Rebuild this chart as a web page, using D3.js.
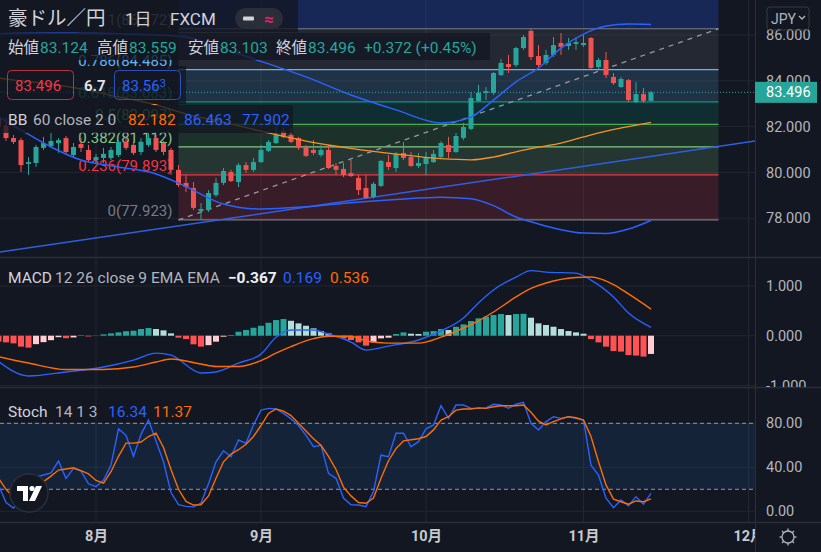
<!DOCTYPE html>
<html>
<head>
<meta charset="utf-8">
<script src="https://cdn.jsdelivr.net/npm/d3@7"></script>
<style>
  html, body { margin: 0; padding: 0; background: #131722; }
  svg { display: block; }
  text { font-family: Roboto, "Noto Sans CJK JP", sans-serif; }
</style>
</head>
<body>
<script>
// ---- data (AUD/JPY daily, FXCM) ----
const firstBar = '2021-07-14';
const axisEnd = '2021-12-04';

const opens  = [82.38,82.05,81.50,81.41,80.37,80.41,81.07,81.15,81.28,81.50,80.76,81.24,80.98,
  80.54,80.63,80.63,80.76,81.33,81.20,80.89,81.20,81.50,81.28,80.98,80.11,79.54,79.32,78.31,78.36,79.01,79.54,80.02,79.58,80.32,80.11,
  80.45,80.94,81.28,81.81,81.63,81.50,81.11,80.98,80.76,80.98,80.28,80.15,79.97,79.76,79.32,78.93,79.41,80.45,80.19,80.85,80.67,80.28,
  80.37,80.45,80.67,81.20,80.89,81.50,81.90,83.12,83.47,83.47,84.25,84.73,84.69,85.43,86.18,85.08,84.78,85.13,85.65,85.52,85.61,
  85.56,85.87,84.60,84.91,84.17,83.73,84.03,83.07,83.42,83.124];
const highs  = [82.52,82.38,81.63,81.50,80.67,81.20,81.55,81.72,81.50,81.59,81.28,81.50,81.20,
  80.80,81.07,81.11,81.41,81.55,81.33,81.50,81.72,81.63,81.37,81.07,80.32,79.89,79.58,78.66,79.23,79.76,80.19,80.11,80.41,80.45,80.63,
  81.20,81.41,81.98,81.94,81.94,81.55,81.20,81.41,81.20,81.20,80.41,80.41,80.54,79.89,79.89,79.58,80.54,80.76,80.89,81.33,80.89,80.85,
  80.89,80.98,81.37,81.55,81.72,82.16,83.51,83.82,83.73,84.38,84.95,85.13,85.48,86.00,86.272,85.56,85.35,85.91,86.09,85.87,85.91,
  86.00,85.91,85.00,85.26,84.34,84.17,84.08,83.95,83.69,83.559];
const lows   = [81.90,81.37,81.24,80.02,79.89,80.24,80.98,81.07,80.86,80.80,80.67,80.89,80.45,
  80.41,80.41,80.54,80.67,80.98,80.76,80.76,81.11,80.89,80.76,79.89,79.36,79.14,78.36,77.923,78.27,78.93,79.45,79.58,79.36,79.97,80.02,
  80.41,80.89,81.24,81.50,81.28,80.98,80.67,80.76,80.67,80.15,79.89,79.80,79.80,79.01,78.86,78.86,79.36,80.11,80.02,80.54,80.24,80.19,
  79.89,80.41,80.63,80.63,80.85,81.41,81.85,83.07,83.16,83.38,84.21,84.34,84.60,85.35,84.91,84.60,84.69,85.04,85.13,85.35,85.35,
  85.48,84.52,84.52,84.12,83.82,83.69,83.07,83.03,83.03,83.103];
const closes = [82.00,81.50,81.33,80.32,80.45,81.11,81.28,81.37,81.41,80.89,81.11,81.07,80.54,
  80.67,80.81,80.98,81.33,81.07,80.85,81.33,81.50,80.98,80.89,80.11,79.45,79.36,78.45,78.40,79.10,79.54,80.06,79.62,80.32,80.11,80.45,
  80.98,81.33,81.63,81.55,81.33,81.07,80.72,80.85,80.98,80.19,80.11,79.89,79.84,79.23,78.88,79.50,80.50,80.24,80.81,80.63,80.28,80.41,
  80.67,80.81,81.28,80.89,81.59,81.98,83.25,83.47,83.55,84.34,84.78,84.60,85.43,85.91,85.04,84.69,85.13,85.56,85.48,85.65,85.69,
  85.65,84.56,84.91,84.25,83.90,84.08,83.16,83.42,83.124,83.496];

// Bollinger Bands 60 / 2, read at sample dates
const bbDates  = ['2021-07-14','2021-07-19','2021-07-23','2021-07-29','2021-08-05','2021-08-12','2021-08-18','2021-08-25',
  '2021-09-01','2021-09-09','2021-09-17','2021-09-27','2021-10-05','2021-10-11','2021-10-14','2021-10-19','2021-10-22',
  '2021-10-27','2021-11-01','2021-11-04','2021-11-09','2021-11-12'];
const bbUpper  = [86.05,86.07,86.08,86.07,86.05,86.0,85.91,85.4,84.85,84.17,83.38,82.73,82.16,82.42,83.16,83.95,84.56,85.43,86.04,86.39,86.48,86.463];
const bbBasis  = [84.12,84.0,83.85,83.65,83.3,82.95,82.55,82.2,81.8,81.37,81.05,80.8,80.6,80.55,80.67,80.9,81.1,81.28,81.55,81.8,82.0,82.182];
const bbLower  = [82.42,81.85,81.11,80.54,80.24,79.93,79.38,78.62,78.40,78.50,78.68,78.82,78.92,78.85,78.55,78.05,77.75,77.5,77.35,77.33,77.53,77.902];

// Fibonacci retracement drawing
const fibFrom = '2021-08-17';
const fibTo = '2021-11-25';
const fibLevels = [0, 0.236, 0.382, 0.5, 0.618, 0.786, 1, 1.618];
const fibPrices = [77.923, 79.893, 81.112, 82.097, 83.083, 84.485, 86.272, 91.432];
const fibColors = ['#787b86','#f23645','#81c784','#4caf50','#089981','#64b5f6','#787b86','#2962ff'];

// hand drawn trend line
const trendDates = ['2021-07-15', '2021-11-12'];
const trendPrices = [76.56, 80.70];

// MACD 12 26 9
const macdHist = [-0.12,-0.134,-0.154,-0.22,-0.24,-0.17,-0.13,-0.09,-0.03,-0.05,-0.035,0.01,-0.015,
  0.005,0.027,0.047,0.067,0.09,0.10,0.134,0.154,0.134,0.107,0.047,-0.04,-0.067,-0.174,-0.22,-0.19,-0.12,-0.02,0.013,0.08,0.114,0.16,
  0.2,0.26,0.315,0.335,0.30,0.248,0.2,0.147,0.094,0.047,-0.02,-0.054,-0.087,-0.134,-0.2,-0.134,-0.054,-0.04,0.034,0.067,0.04,0.035,
  0.08,0.094,0.134,0.114,0.18,0.228,0.295,0.349,0.382,0.416,0.436,0.416,0.436,0.44,0.362,0.248,0.215,0.18,0.134,0.094,0.067,
  0.04,-0.067,-0.134,-0.22,-0.31,-0.32,-0.39,-0.40,-0.42,-0.367];
const macdDates = ['2021-07-14','2021-07-20','2021-07-27','2021-08-03','2021-08-09','2021-08-12','2021-08-16','2021-08-20',
  '2021-08-24','2021-08-27','2021-09-01','2021-09-03','2021-09-07','2021-09-10','2021-09-14','2021-09-17','2021-09-21',
  '2021-09-24','2021-09-30','2021-10-05','2021-10-08','2021-10-12','2021-10-14','2021-10-19','2021-10-21','2021-10-25',
  '2021-10-29','2021-11-02','2021-11-05','2021-11-09','2021-11-12'];
const macdLine = [-0.52,-0.81,-0.73,-0.63,-0.49,-0.35,-0.39,-0.75,-0.73,-0.55,-0.37,-0.03,0.115,0.115,0.034,-0.127,-0.29,
  -0.21,-0.087,0.095,0.356,0.66,0.92,1.18,1.31,1.28,1.26,1.12,0.78,0.457,0.169];
const signalLine = [-0.42,-0.55,-0.68,-0.68,-0.63,-0.53,-0.47,-0.57,-0.62,-0.62,-0.5,-0.35,-0.22,-0.06,-0.01,-0.01,-0.107,
  -0.15,-0.15,-0.03,0.155,0.3,0.477,0.78,0.95,1.06,1.17,1.18,1.03,0.84,0.536];

// Stochastic 14 1 3
const stochK = [24,8,3,10,25,31,33,35,45.7,30,39,36.6,25,
  22.4,28.5,42,75,69,50,70,83,64,45,17,6,4.5,4,7.5,25,45,55,49.6,64.8,61.8,78.5,
  92,93.6,93,89,84,78,69,58.7,60,34.5,30,12,6,5.7,4.2,18,51,49.6,71,71,58.7,63.3,
  75,78.5,96,84.5,96.6,96.6,93.6,93.6,94,97.3,96.6,93.6,97.3,99,80,73.9,81.5,86,84.5,86,84.5,
  83,42,33,12,3.3,10.3,5,13.3,6.4,16.34];
const stochD = [30,20,13,12,16,22,27,32,37.5,38.5,39.6,37,34,
  28,25.5,36,50,62,62,63,68,71,58,38,20,9,5.7,6,14,30,45,52,56,61,68,
  78,89,93,91,87,80,73,66,60,50,38,22,14,8,7.3,12,30,46,57,64,65,66,
  68,74,83,86,92,93,93,94,93.6,95,96,96,96,96.6,90,82,78.5,81.5,84,86,85,
  83,68,45,24,11,8.7,6.4,9.4,8.7,11.37];

const priceTicks = [78, 80, 82, 84, 86];
const macdTicks = [-1, 0, 1];
const stochTicks = [0, 40, 80];
const stochBands = [20, 80];

// ---- layout ----
const W = 821, H = 552;
const plotR = 755;
const panes = { main: [0, 257], macd: [258, 387], stoch: [388, 522] };
const font = 'Roboto, "Noto Sans CJK JP", sans-serif';
const upColor = '#26a69a', downColor = '#ef5350';
const gridColor = '#22262f', lineBorder = '#2a2e39', axisText = '#b2b5be';

const parseDate = d3.timeParse('%Y-%m-%d');
const fmtDate = d3.timeFormat('%Y-%m-%d');
const days = d3.timeDay.range(parseDate(firstBar), parseDate(axisEnd))
  .filter(d => d.getDay() !== 0 && d.getDay() !== 6);
const dayIndex = new Map(days.map((d, i) => [fmtDate(d), i]));
const idx = s => dayIndex.get(s);
const lastIdx = closes.length - 1;

const x = d3.scaleLinear().domain([0, lastIdx]).range([-1.5, 651]);
const y = d3.scaleLinear().domain([78, 86]).range([218.2, 35]);
const yMacd = d3.scaleLinear().domain([-1, 1]).range([385.4, 286]);
const yStoch = d3.scaleLinear().domain([0, 80]).range([511.3, 423.3]);

const svg = d3.select('body').append('svg').attr('width', W).attr('height', H)
  .style('font-family', font);
svg.append('rect').attr('width', W).attr('height', H).attr('fill', '#131722');

const defs = svg.append('defs');
Object.entries(panes).forEach(([k, [t, b]]) => {
  defs.append('clipPath').attr('id', 'clip-' + k)
    .append('rect').attr('x', 0).attr('y', t).attr('width', plotR).attr('height', b - t);
  defs.append('clipPath').attr('id', 'clipax-' + k)
    .append('rect').attr('x', plotR).attr('y', t).attr('width', W - plotR).attr('height', b - t);
});
defs.append('clipPath').attr('id', 'clip-time')
  .append('rect').attr('x', 0).attr('y', 522).attr('width', plotR).attr('height', 30);

// month ticks
const monthIdx = days.map((d, i) => i).filter(i => i > 0 && days[i].getMonth() !== days[i - 1].getMonth());

// vertical grid
const vgrid = svg.append('g');
monthIdx.forEach(i => {
  vgrid.append('line').attr('x1', x(i)).attr('x2', x(i)).attr('y1', 0).attr('y2', 522)
    .attr('stroke', gridColor);
});

// horizontal grid
function hgrid(scale, ticks, pane) {
  const g = svg.append('g').attr('clip-path', `url(#clip-${pane})`);
  ticks.forEach(t => g.append('line').attr('x1', 0).attr('x2', plotR)
    .attr('y1', scale(t)).attr('y2', scale(t)).attr('stroke', gridColor));
}
hgrid(y, priceTicks, 'main');
hgrid(yMacd, macdTicks, 'macd');
hgrid(yStoch, stochTicks, 'stoch');

// ---- main pane ----
const main = svg.append('g').attr('clip-path', 'url(#clip-main)');

// fib zones and lines
const fx0 = x(idx(fibFrom)), fx1 = x(idx(fibTo));
for (let i = 0; i < fibLevels.length - 1; i++) {
  main.append('rect')
    .attr('x', fx0).attr('width', fx1 - fx0)
    .attr('y', y(fibPrices[i + 1])).attr('height', y(fibPrices[i]) - y(fibPrices[i + 1]))
    .attr('fill', fibColors[i + 1]).attr('fill-opacity', fibLevels[i + 1] > 1 ? 0.24 : 0.17);
}
fibLevels.forEach((lv, i) => {
  main.append('line').attr('x1', fx0).attr('x2', fx1)
    .attr('y1', y(fibPrices[i])).attr('y2', y(fibPrices[i]))
    .attr('stroke', fibColors[i]).attr('stroke-width', 1.2);
  main.append('text').attr('x', fx0 - 6).attr('y', y(fibPrices[i]) - 4)
    .attr('text-anchor', 'end').attr('font-size', 15).attr('fill', fibColors[i])
    .text(`${lv}(${d3.format('.3f')(fibPrices[i])})`);
});
// fib diagonal
main.append('line')
  .attr('x1', fx0).attr('y1', y(fibPrices[0])).attr('x2', fx1).attr('y2', y(fibPrices[6]))
  .attr('stroke', '#9598a1').attr('stroke-width', 1.3).attr('stroke-dasharray', '5,5');

// trend line, extended both ways
const ti0 = idx(trendDates[0]), ti1 = idx(trendDates[1]);
const tSlope = (trendPrices[1] - trendPrices[0]) / (ti1 - ti0);
const tL = x.invert(0), tR = x.invert(plotR);
main.append('line')
  .attr('x1', 0).attr('y1', y(trendPrices[0] + (tL - ti0) * tSlope))
  .attr('x2', plotR).attr('y2', y(trendPrices[0] + (tR - ti0) * tSlope))
  .attr('stroke', '#2f5fe0').attr('stroke-width', 1.5);

// candles
const bars = closes.map((c, i) => ({ i, o: opens[i], h: highs[i], l: lows[i], c }));
const cg = main.append('g');
cg.selectAll('line').data(bars).join('line')
  .attr('x1', d => x(d.i)).attr('x2', d => x(d.i))
  .attr('y1', d => y(d.h)).attr('y2', d => y(d.l))
  .attr('stroke', d => d.c >= d.o ? upColor : downColor).attr('stroke-width', 1);
cg.selectAll('rect').data(bars).join('rect')
  .attr('x', d => x(d.i) - 2.5).attr('width', 5)
  .attr('y', d => y(Math.max(d.o, d.c)))
  .attr('height', d => Math.max(1, Math.abs(y(d.o) - y(d.c))))
  .attr('fill', d => d.c >= d.o ? upColor : downColor);

// bollinger bands
const bbLine = vals => d3.line().curve(d3.curveMonotoneX)
  .x((d, i) => x(idx(bbDates[i]))).y(d => y(d))(vals);
main.append('path').attr('d', bbLine(bbUpper)).attr('fill', 'none').attr('stroke', '#2962ff').attr('stroke-width', 1.5);
main.append('path').attr('d', bbLine(bbLower)).attr('fill', 'none').attr('stroke', '#2962ff').attr('stroke-width', 1.5);
main.append('path').attr('d', bbLine(bbBasis)).attr('fill', 'none').attr('stroke', '#f7931e').attr('stroke-width', 1.3);

// last price line
const lastClose = closes[lastIdx];
main.append('line').attr('x1', 0).attr('x2', plotR).attr('y1', y(lastClose)).attr('y2', y(lastClose))
  .attr('stroke', upColor).attr('stroke-dasharray', '1,2');

// ---- MACD pane ----
const mg = svg.append('g').attr('clip-path', 'url(#clip-macd)');
const histColor = (v, p) => v >= 0 ? (v >= p ? '#26a69a' : '#b2dfdb') : (v <= p ? '#ff5252' : '#ffcdd2');
mg.selectAll('rect').data(macdHist).join('rect')
  .attr('x', (d, i) => x(i) - 3).attr('width', 6)
  .attr('y', d => Math.min(yMacd(d), yMacd(0)))
  .attr('height', d => Math.abs(yMacd(d) - yMacd(0)))
  .attr('fill', (d, i) => histColor(d, i > 0 ? macdHist[i - 1] : d));
const macdGen = d3.line().curve(d3.curveMonotoneX)
  .x((d, i) => x(idx(macdDates[i]))).y(d => yMacd(d));
mg.append('path').attr('d', macdGen(macdLine)).attr('fill', 'none').attr('stroke', '#2962ff').attr('stroke-width', 1.4);
mg.append('path').attr('d', macdGen(signalLine)).attr('fill', 'none').attr('stroke', '#ff6d00').attr('stroke-width', 1.4);

// ---- Stoch pane ----
const sg = svg.append('g').attr('clip-path', 'url(#clip-stoch)');
sg.append('rect').attr('x', 0).attr('width', plotR)
  .attr('y', yStoch(stochBands[1])).attr('height', yStoch(stochBands[0]) - yStoch(stochBands[1]))
  .attr('fill', '#2196f3').attr('fill-opacity', 0.1);
stochBands.forEach(b => sg.append('line').attr('x1', 0).attr('x2', plotR)
  .attr('y1', yStoch(b)).attr('y2', yStoch(b))
  .attr('stroke', '#9598a1').attr('stroke-dasharray', '4,3'));
const stochGen = d3.line().x((d, i) => x(i)).y(d => yStoch(d));
sg.append('path').attr('d', stochGen(stochK)).attr('fill', 'none').attr('stroke', '#2962ff').attr('stroke-width', 1.4);
sg.append('path').attr('d', stochGen(stochD)).attr('fill', 'none').attr('stroke', '#ff6d00').attr('stroke-width', 1.4);

// ---- separators ----
[257.5, 387.5, 522.5].forEach(v => svg.append('line').attr('x1', 0).attr('x2', W)
  .attr('y1', v).attr('y2', v).attr('stroke', lineBorder).attr('stroke-width', 1.5));
svg.append('line').attr('x1', plotR + 0.5).attr('x2', plotR + 0.5).attr('y1', 0).attr('y2', H)
  .attr('stroke', lineBorder).attr('stroke-width', 1.2);

// ---- right axes ----
function rightAxis(scale, ticks, f, pane) {
  svg.append('g').attr('clip-path', `url(#clipax-${pane})`)
    .append('g').attr('transform', `translate(${plotR},0)`)
    .call(d3.axisRight(scale).tickValues(ticks).tickFormat(f).tickSize(0).tickPadding(11))
    .call(g => g.select('.domain').remove())
    .call(g => g.selectAll('text').attr('fill', axisText).attr('font-size', 14.5).attr('font-family', font));
}
rightAxis(y, priceTicks, d3.format('.3f'), 'main');
rightAxis(yMacd, macdTicks, v => d3.format('.3f')(v).replace('−', '-'), 'macd');
rightAxis(yStoch, stochTicks, d3.format('.2f'), 'stoch');

// last price label
svg.append('rect').attr('x', plotR).attr('y', y(lastClose) - 10.5).attr('width', 62).attr('height', 21)
  .attr('fill', upColor);
svg.append('text').attr('x', plotR + 11).attr('y', y(lastClose) + 5).attr('font-size', 14.5)
  .attr('fill', '#ffffff').text(d3.format('.3f')(lastClose));

// JPY button
svg.append('rect').attr('x', 767).attr('y', 7).attr('width', 42).attr('height', 23).attr('rx', 3)
  .attr('fill', 'none').attr('stroke', '#363a45');
svg.append('text').attr('x', 771).attr('y', 24).attr('font-size', 14).attr('fill', axisText).text('JPY');
svg.append('path').attr('d', 'M799 16 l3 3 l3 -3').attr('fill', 'none').attr('stroke', axisText).attr('stroke-width', 1.3);

// ---- time axis ----
svg.append('g').attr('clip-path', 'url(#clip-time)')
  .append('g').attr('transform', 'translate(0,522)')
  .call(d3.axisBottom(x).tickValues(monthIdx).tickFormat(i => (days[i].getMonth() + 1) + '月')
    .tickSize(0).tickPadding(9))
  .call(g => g.select('.domain').remove())
  .call(g => g.selectAll('text').attr('fill', '#c8cad0').attr('font-size', 14.5)
    .attr('font-weight', 'bold').attr('font-family', font));

// gear icon
const gear = svg.append('g').attr('transform', 'translate(788,537)')
  .attr('stroke', axisText).attr('fill', 'none').attr('stroke-width', 1.3);
gear.append('circle').attr('r', 6);
d3.range(8).forEach(k => {
  const a = k * Math.PI / 4;
  gear.append('line').attr('x1', Math.cos(a) * 6).attr('y1', Math.sin(a) * 6)
    .attr('x2', Math.cos(a) * 8.5).attr('y2', Math.sin(a) * 8.5);
});

// ---- legends ----
const lg = svg.append('g');
function bg(x0, y0, w, h) {
  lg.append('rect').attr('x', x0).attr('y', y0).attr('width', w).attr('height', h)
    .attr('fill', '#131722').attr('fill-opacity', 0.78);
}
function txt(x0, y0, s, color, size, weight) {
  return lg.append('text').attr('x', x0).attr('y', y0).attr('font-size', size || 15.5)
    .attr('font-weight', weight || 'normal').attr('fill', color).text(s);
}
bg(0, 0, 298, 32);
bg(0, 33, 490, 27);
bg(0, 66, 186, 38);
bg(0, 105, 293, 28);

txt(8, 25, '豪ドル／円', '#d1d4dc', 19.5);
txt(125, 25, '1日', '#d1d4dc', 17);
txt(170, 25, 'FXCM', '#d1d4dc', 17);
lg.append('rect').attr('x', 235).attr('y', 8).attr('width', 48).attr('height', 21).attr('rx', 10.5)
  .attr('fill', '#2a2e39');
lg.append('rect').attr('x', 243).attr('y', 16.5).attr('width', 11).attr('height', 4).attr('rx', 1)
  .attr('fill', '#d1d4dc');
txt(264, 25, '≈', '#e91e63', 17, 'bold');

const ohlc = [['始値', opens[lastIdx], 8, 40], ['高値', highs[lastIdx], 97, 129],
  ['安値', lows[lastIdx], 188, 220], ['終値', closes[lastIdx], 276, 308]];
ohlc.forEach(([lab, v, lx, vx]) => {
  txt(lx, 53, lab, '#d1d4dc');
  txt(vx, 53, d3.format('.3f')(v), upColor);
});
const chg = closes[lastIdx] - opens[lastIdx];
txt(364, 53, `+${d3.format('.3f')(chg)} (+${d3.format('.2f')(chg / opens[lastIdx] * 100)}%)`, upColor);

lg.append('rect').attr('x', 7.5).attr('y', 70.5).attr('width', 66).attr('height', 29).attr('rx', 4)
  .attr('fill', 'none').attr('stroke', '#b8323d');
txt(15, 91, '83.496', '#f23645', 15);
txt(84, 91, '6.7', '#e0e3eb', 15, 'bold');
lg.append('rect').attr('x', 114.5).attr('y', 70.5).attr('width', 66).attr('height', 29).attr('rx', 4)
  .attr('fill', 'none').attr('stroke', '#2a4fb8');
const ask = txt(122, 91, '83.56', '#2962ff', 15);
ask.append('tspan').attr('font-size', 11).attr('dy', -4).text('3');

txt(8, 125, 'BB', '#d1d4dc');
txt(33, 125, '60 close 2 0', '#b2b5be');
txt(128, 125, d3.format('.3f')(bbBasis[bbBasis.length - 1]), '#ff6d00');
txt(184, 125, d3.format('.3f')(bbUpper[bbUpper.length - 1]), '#2962ff');
txt(242, 125, d3.format('.3f')(bbLower[bbLower.length - 1]), '#2962ff');

txt(8, 283, 'MACD', '#d1d4dc');
txt(55, 283, '12 26 close 9 EMA EMA', '#b2b5be');
txt(228, 283, '−' + d3.format('.3f')(-macdHist[lastIdx]), '#f0f0f0', 15.5, 'bold');
txt(283, 283, d3.format('.3f')(macdLine[macdLine.length - 1]), '#2962ff');
txt(330, 283, d3.format('.3f')(signalLine[signalLine.length - 1]), '#ff6d00');

txt(8, 417, 'Stoch', '#d1d4dc');
txt(55, 417, '14 1 3', '#b2b5be');
txt(108, 417, d3.format('.2f')(stochK[lastIdx]), '#2962ff');
txt(153, 417, d3.format('.2f')(stochD[lastIdx]), '#ff6d00');

// TradingView logo badge
const logo = svg.append('g').attr('transform', 'translate(29,493)');
logo.append('circle').attr('r', 19).attr('fill', '#131722').attr('stroke', '#2a2e39').attr('stroke-width', 1.5);
logo.append('path').attr('d', 'M-12,-7 H-1 V8 H-6 V-2 H-12 Z').attr('fill', '#ffffff');
logo.append('circle').attr('cx', 3).attr('cy', -4.5).attr('r', 2.6).attr('fill', '#ffffff');
logo.append('path').attr('d', 'M7,-7 H13 L6,8 H0 Z').attr('fill', '#ffffff');
</script>
</body>
</html>
